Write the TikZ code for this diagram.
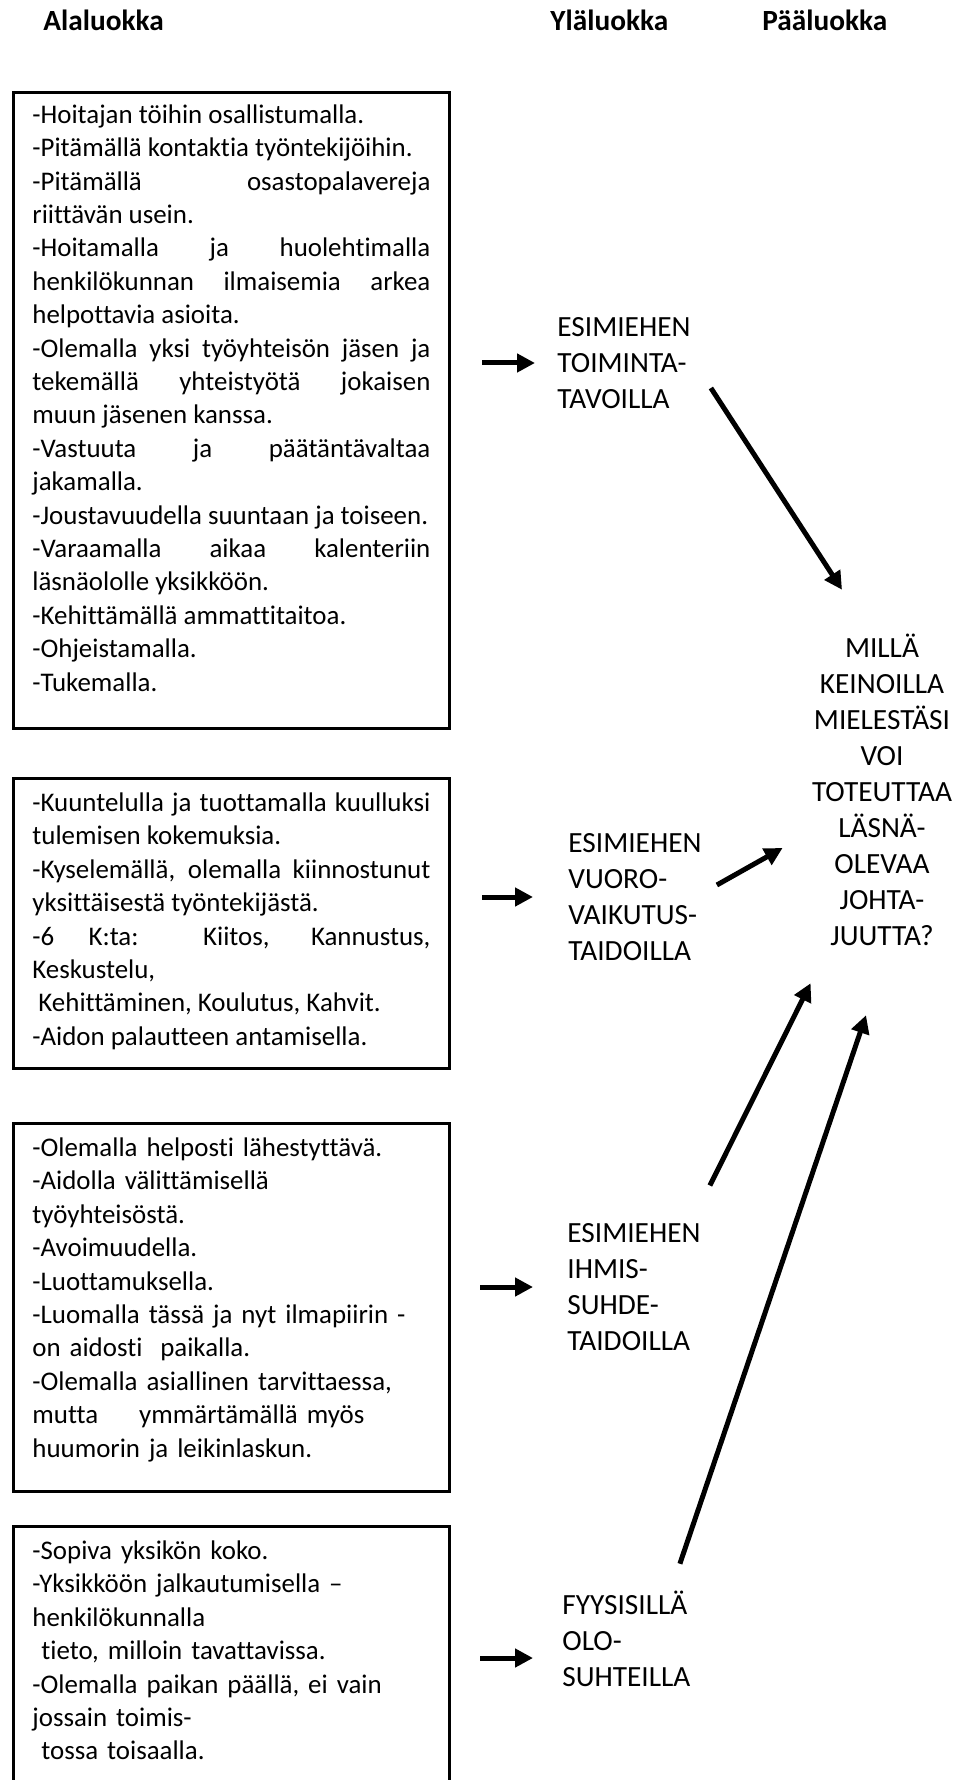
\documentclass[tikz,border=0pt]{standalone}
\usepackage{fontspec}
\setmainfont{Carlito}[RawFeature={-liga}]
\usetikzlibrary{positioning,arrows.meta}

\newcommand\boxfont{\fontsize{13.45pt}{16.7pt}\selectfont}
\newcommand\catfont{\fontsize{14.65pt}{18pt}\selectfont}
\newcommand\headfont{\fontsize{14.65pt}{18pt}\selectfont\bfseries}
\setlength\parindent{0pt}
\tolerance=10000
\hyphenpenalty=10000
\exhyphenpenalty=10000

\begin{document}
\begin{tikzpicture}[x=0.5pt, y=-0.5pt,
  panel/.style={draw, line width=1.5pt, minimum width=218pt, inner sep=0pt},
  paneltext/.style={text width=199pt, inner sep=0pt, font=\boxfont, execute at begin node={\rule{0pt}{10.5pt}}},
  heading/.style={font=\headfont, inner sep=0pt, anchor=base west},
  category/.style={font=\catfont, align=left, inner sep=0pt, anchor=west},
  flow/.style={-{Triangle[length=9pt,width=9pt]}, line width=2.5pt}]
  \useasboundingbox (0,0) rectangle (958,1780);

  \node[heading] (hsub) at (43,31) {Alaluokka};
  \node[heading] (hsup) at (550,31) {Yläluokka};
  \node[heading] (hmain) at (762,31) {Pääluokka};

  % boxes on the left
  \node[panel, minimum height=318pt] (b1) at (231.5,410.5) {};
  \node[panel, minimum height=145pt, below=23.5pt of b1] (b2) {};
  \node[panel, minimum height=184pt, below=26pt of b2] (b3) {};
  \node[panel, minimum height=129pt, below=16pt of b3] (b4) {};

  \node[paneltext, align=justify, below right=5.5pt and 10pt of b1.north west] (t1) {%
    -Hoitajan töihin osallistumalla.\\
    -Pitämällä kontaktia työntekijöihin.\\
    -Pitämällä osastopalavereja\linebreak
    riittävän usein.\\
    -Hoitamalla ja huolehtimalla\linebreak
    henkilökunnan ilmaisemia arkea\linebreak
    helpottavia asioita.\\
    -Olemalla yksi työyhteisön jäsen ja\linebreak
    tekemällä yhteistyötä jokaisen\linebreak
    muun jäsenen kanssa.\\
    -Vastuuta ja päätäntävaltaa\linebreak
    jakamalla.\\
    -Joustavuudella suuntaan ja toiseen.\\
    -Varaamalla aikaa kalenteriin\linebreak
    läsnäololle yksikköön.\\
    -Kehittämällä ammattitaitoa.\\
    -Ohjeistamalla.\\
    -Tukemalla.};
  \node[paneltext, align=justify, below right=6.5pt and 10pt of b2.north west] (t2) {%
    -Kuuntelulla ja tuottamalla kuulluksi\linebreak
    tulemisen kokemuksia.\\
    -Kyselemällä, olemalla kiinnostunut\linebreak
    yksittäisestä työntekijästä.\\
    -6 K:ta: Kiitos, Kannustus,\linebreak
    Keskustelu,\\
    \mbox{}\ Kehittäminen, Koulutus, Kahvit.\\
    -Aidon palautteen antamisella.};
  \node[paneltext, align=left, below right=6.5pt and 10pt of b3.north west] (t3) {%
    -Olemalla helposti lähestyttävä.\\
    -Aidolla välittämisellä\\
    työyhteisöstä.\\
    -Avoimuudella.\\
    -Luottamuksella.\\
    -Luomalla tässä ja nyt ilmapiirin -\\
    on aidosti\ \ paikalla.\\
    -Olemalla asiallinen tarvittaessa,\\
    mutta\hspace{20.5pt}ymmärtämällä myös\\
    huumorin ja leikinlaskun.};
  \node[paneltext, align=left, below right=6.5pt and 10pt of b4.north west] (t4) {%
    -Sopiva yksikön koko.\\
    -Yksikköön jalkautumisella –\\
    henkilökunnalla\\
    \mbox{}\ tieto, milloin tavattavissa.\\
    -Olemalla paikan päällä, ei vain\\
    jossain toimis-\\
    \mbox{}\ tossa toisaalla.};

  % categories
  \node[category] (l1) at (557,363) {ESIMIEHEN\\TOIMINTA-\\TAVOILLA};
  \node[category] (l2) at (568,897) {ESIMIEHEN\\VUORO-\\VAIKUTUS-\\TAIDOILLA};
  \node[category] (l3) at (567,1287) {ESIMIEHEN\\IHMIS-\\SUHDE-\\TAIDOILLA};
  \node[category] (l4) at (562,1639) {FYYSISILLÄ\\OLO-\\SUHTEILLA};
  \node[category, align=center, anchor=center] (goal) at (882,790)
    {MILLÄ\\KEINOILLA\\MIELESTÄSI\\VOI\\TOTEUTTAA\\LÄSNÄ-\\OLEVAA\\JOHTA-\\JUUTTA?};

  \coordinate (in4) at ([yshift=-9.5pt]l4.west);

  \draw[flow, shorten <=15.5pt, shorten >=11pt] (b1.east |- l1.west) -- (l1.west);
  \draw[flow, shorten <=15.5pt, shorten >=17.5pt] (b2.east |- l2.west) -- (l2.west);
  \draw[flow, shorten <=14.5pt, shorten >=17pt] (b3.east |- l3.west) -- (l3.west);
  \draw[flow, shorten <=14.5pt, shorten >=14.5pt] (b4.east |- in4) -- (in4);

  \draw[flow] ([xshift=10pt,yshift=-12.5pt]l1.east) -- ([xshift=-20pt,yshift=22pt]goal.north);
  \draw[flow] ([xshift=7.5pt,yshift=6pt]l2.east) -- ([xshift=-14.5pt,yshift=-29pt]goal.west);
  \draw[flow] ([xshift=4.5pt,yshift=18.75pt]l3.north east) -- ([xshift=-0.5pt,yshift=-18.5pt]goal.south west);
  \draw[flow] ([xshift=-5.5pt,yshift=13.5pt]l4.north east) -- ([xshift=-8pt,yshift=-34.5pt]goal.south);
\end{tikzpicture}
\end{document}
